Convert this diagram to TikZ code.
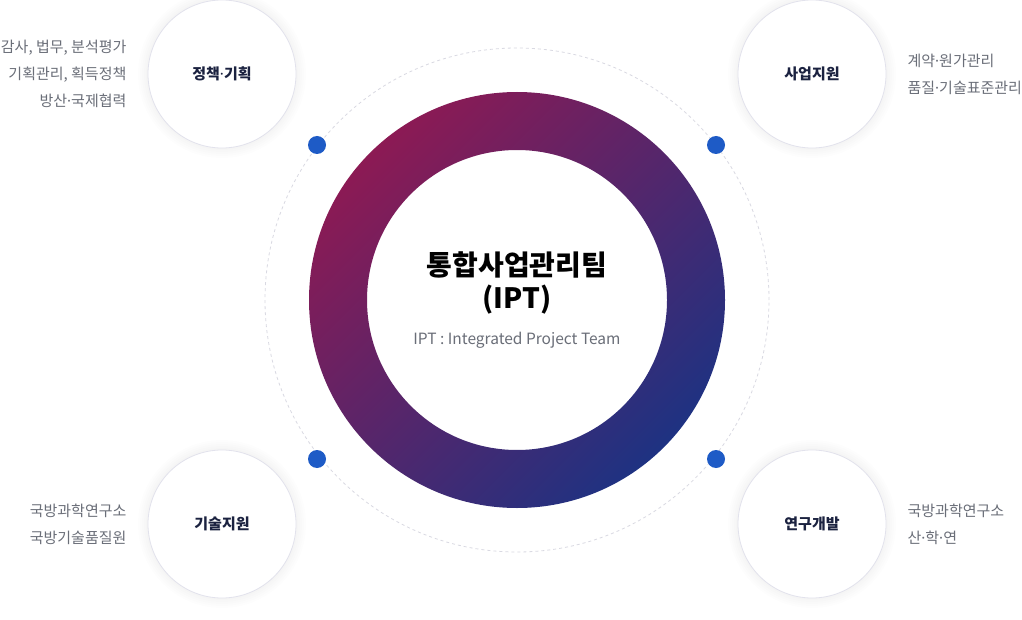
\documentclass[tikz,border=0pt]{standalone}
\usepackage{fontspec}
\setmainfont{Noto Sans CJK KR}
\newfontfamily\latinfont{Noto Sans}
\usetikzlibrary{positioning}

\definecolor{ringtop}{HTML}{8C1A54}
\definecolor{ringbot}{HTML}{1E3282}
\definecolor{unitline}{HTML}{E2E2EC}
\definecolor{unittext}{HTML}{1B2240}
\definecolor{desctext}{HTML}{6A6E78}
\definecolor{dotblue}{HTML}{1E5BC6}
\definecolor{dashline}{HTML}{D9D9E2}

\newcommand{\mdot}{{\latinfont ·}}

\tikzstyle{unit} = [circle,minimum size=148pt,inner sep=0pt,draw=unitline,line width=0.8pt,fill=white,text=unittext,font=\bfseries\fontsize{15}{18}\selectfont]
\tikzstyle{desc} = [text=desctext,inner sep=0pt,font=\fontsize{15}{27}\selectfont]
\tikzstyle{dot} = [circle,fill=dotblue,minimum size=18pt,inner sep=0pt]
\tikzstyle{shadow} = [black,opacity=0.009]

\begin{document}
\begin{tikzpicture}[x=1pt,y=-1pt]
	\useasboundingbox[fill=white] (0,0) rectangle (1022,620);
	\coordinate (c) at (517,300);
	\coordinate (u1) at (222,74);
	\coordinate (u2) at (812,74);
	\coordinate (u3) at (222,524);
	\coordinate (u4) at (812,524);
	\draw[dashline,line width=0.8pt,dash pattern=on 3pt off 3pt] (c) circle (252pt);
	\shade[even odd rule,top color=ringtop,bottom color=ringbot,shading angle=45] (c) circle (208pt) (c) circle (150pt);
	\node[dot] (d1) at (317,145) {};
	\node[dot] (d2) at (716,145) {};
	\node[dot] (d3) at (317,459) {};
	\node[dot] (d4) at (716,459) {};
	\foreach \u in {u1,u2,u3,u4}
		\foreach \r in {66,68,...,84}
			\fill[shadow,yshift=-6pt] (\u) circle (\r pt);
	\node[unit] (plan) at (u1) {정책\mdot 기획};
	\node[unit] (biz) at (u2) {사업지원};
	\node[unit] (tech) at (u3) {기술지원};
	\node[unit] (rnd) at (u4) {연구개발};
	\node[desc,align=right,left=21pt of plan] (plantxt) {감사, 법무, 분석평가\\기획관리, 획득정책\\방산\mdot 국제협력};
	\node[desc,align=left,right=21pt of biz] (biztxt) {계약\mdot 원가관리\\품질\mdot 기술표준관리};
	\node[desc,align=right,left=21pt of tech] (techtxt) {국방과학연구소\\국방기술품질원};
	\node[desc,align=left,right=21pt of rnd] (rndtxt) {국방과학연구소\\산\mdot 학\mdot 연};
	\node[align=center,font=\bfseries\fontsize{28}{33}\selectfont] (ipt) at (517,283) {통합사업관리팀\\(IPT)};
	\node[text=desctext,font=\fontsize{15.5}{18}\selectfont] (iptsub) at (517,340) {IPT : Integrated Project Team};
\end{tikzpicture}
\end{document}
